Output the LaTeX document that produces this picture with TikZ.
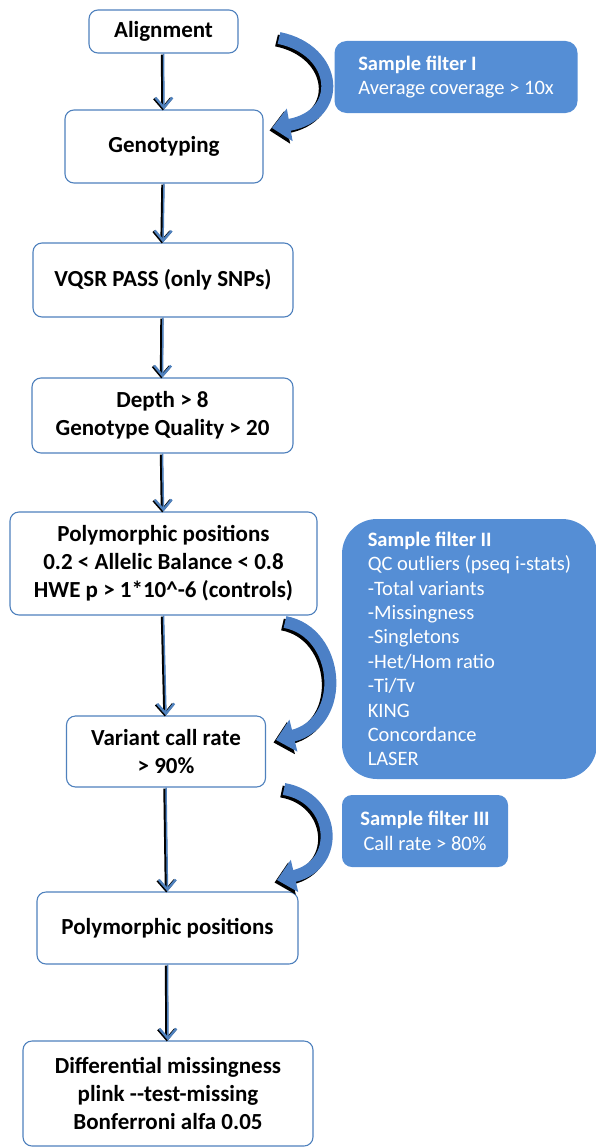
\documentclass[tikz,border=0pt]{standalone}
\usepackage{fontspec}
\setmainfont{Carlito}
\usetikzlibrary{arrows.meta}
\definecolor{boxblue}{RGB}{79,129,189}
\definecolor{filterblue}{RGB}{85,142,213}
\definecolor{bendblue}{RGB}{76,128,198}
\tikzset{
  stepbox/.style={draw=boxblue, line width=1.1pt, rounded corners=9pt, fill=white, align=center, inner sep=0pt, font=\fontsize{23}{28}\selectfont\bfseries},
  filterbox/.style={fill=filterblue, text=white, rounded corners=12pt, inner ysep=0pt, font=\fontsize{20.5}{24.4}\selectfont},
  flowline/.style={draw=boxblue, line width=1.5pt, -{Straight Barb[length=10pt,width=17pt,line width=2.4pt]},
    preaction={draw=black, line width=3pt, transform canvas={xshift=-1.2pt,yshift=-1pt}, -{Straight Barb[length=10pt,width=17pt,line width=2.8pt]}}},
  bendarrow/.style={draw=bendblue, line width=12pt, -{Triangle[length=18pt,width=32pt]}},
  bendshadow/.style={draw=black, line width=12pt, -{Triangle[length=18pt,width=32pt]}, transform canvas={xshift=-2.5pt,yshift=-2.5pt}}
}
\begin{document}
\begin{tikzpicture}[x=1pt,y=-1pt]
\useasboundingbox (0,0) rectangle (596,1148);
\node[stepbox,minimum width=149pt,minimum height=43pt] (align) at (163.5,31.5) {Alignment};
\node[stepbox,minimum width=198pt,minimum height=73pt] (geno) at (164,146.5) {Genotyping};
\node[stepbox,minimum width=260pt,minimum height=74pt] (vqsr) at (163,280) {VQSR PASS (only SNPs)};
\node[stepbox,minimum width=261pt,minimum height=75pt] (depth) at (162.5,415.5) {Depth > 8\\Genotype Quality > 20};
\node[stepbox,minimum width=307pt,minimum height=103pt] (poly) at (163.5,563.5) {Polymorphic positions\\0.2 < Allelic Balance < 0.8\\HWE p > 1*10\textasciicircum-6 (controls)};
\node[stepbox,minimum width=199pt,minimum height=71pt] (callrate) at (166,751.5) {Variant call rate\\> 90\%};
\node[stepbox,minimum width=261pt,minimum height=72pt] (polytwo) at (167.5,928) {Polymorphic positions};
\node[stepbox,minimum width=290pt,minimum height=105pt] (diffmiss) at (168,1093.5) {Differential missingness\\plink -{}-test-missing\\Bonferroni alfa 0.05};

\node[filterbox,minimum width=243pt,minimum height=72pt,align=left] (filtone) at (456,77) {\textbf{Sample filter I}\\Average coverage > 10x};
\node[filterbox,rounded corners=35pt,minimum width=255pt,minimum height=260pt,align=left] (filttwo) at (469.5,649) {\textbf{Sample filter II}\\QC outliers (pseq i-stats)\\-Total variants\\-Missingness\\-Singletons\\-Het/Hom ratio\\-Ti/Tv\\KING\\Concordance\\LASER};
\node[filterbox,rounded corners=10pt,minimum width=166pt,minimum height=72pt,align=center] (filtthree) at (425,831) {\textbf{Sample filter III}\\Call rate > 80\%};

\draw[flowline] (align.south) -- (geno.north);
\draw[flowline] (geno.south) -- (vqsr.north);
\draw[flowline] (vqsr.south) -- (depth.north);
\draw[flowline] (depth.south) -- (poly.north);
\draw[flowline] (poly.south) -- (callrate.north);
\draw[flowline] (callrate.south) -- (polytwo.north);
\draw[flowline] (polytwo.south) -- (diffmiss.north);

\coordinate (bonestart) at (279,38);
\coordinate (boneend) at (272,128);
\coordinate (btwostart) at (285,622);
\coordinate (btwoend) at (276,740);
\coordinate (bthreestart) at (284,789);
\coordinate (bthreeend) at (277,880);
\draw[bendshadow] (bonestart) .. controls (338,50) and (345,115) .. (boneend);
\draw[bendarrow] (bonestart) .. controls (338,50) and (345,115) .. (boneend);
\draw[bendshadow] (btwostart) .. controls (340,632) and (348,722) .. (btwoend);
\draw[bendarrow] (btwostart) .. controls (340,632) and (348,722) .. (btwoend);
\draw[bendshadow] (bthreestart) .. controls (336,798) and (342,865) .. (bthreeend);
\draw[bendarrow] (bthreestart) .. controls (336,798) and (342,865) .. (bthreeend);
\end{tikzpicture}
\end{document}
